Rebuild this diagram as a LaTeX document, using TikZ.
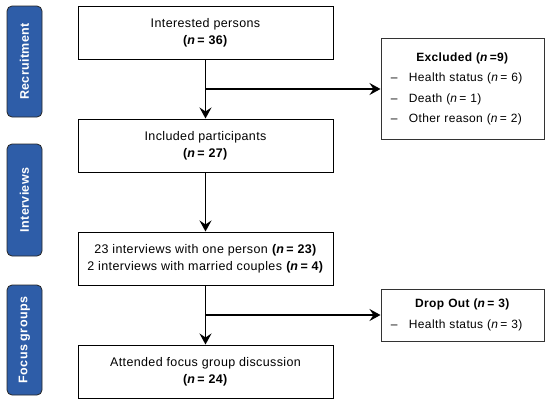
\documentclass[tikz,border=0pt]{standalone}
\usepackage{fontspec}
\setmainfont{Liberation Sans}[LetterSpace=3]
\usetikzlibrary{arrows.meta, positioning, calc}
\definecolor{stageblue}{HTML}{2E5DA8}
\newcommand{\nn}[1]{(\textit{n}\,= #1)}
\newcommand{\litem}[1]{\makebox[20pt][l]{\,--}#1}

\begin{document}
\begin{tikzpicture}[x=1pt, y=-1pt, node distance=59pt, >={Stealth[length=11pt, width=12pt, inset=4pt]}, font=\fontsize{12.5}{17}\selectfont]
\tikzset{
  mainbox/.style={draw, line width=1pt, align=center, minimum width=255pt, minimum height=53pt, inner sep=2pt},
  sidebox/.style={draw=black!80, line width=0.9pt, align=left, text width=147pt, inner sep=8pt, font=\fontsize{12}{20.5}\selectfont},
  stage/.style={draw=black!85, fill=stageblue, rounded corners=5pt, line width=0.8pt, rotate=90, minimum height=35pt, text=white, font=\bfseries\fontsize{12.5}{14}\selectfont},
  flow/.style={->, line width=1.6pt}
}
\useasboundingbox (0,0) rectangle (549,400);

% stages
\node[stage, minimum width=111pt] (recruit) at (24.5,61.5) {Recruitment};
\node[stage, minimum width=112pt] (interv) at (24.5,200) {Interviews};
\node[stage, minimum width=110pt] (groups) at (24.5,340) {Focus groups};

% main flow
\node[mainbox] (persons) at (205.5,32.5) {Interested persons\\\textbf{\nn{36}}};
\node[mainbox, below=of persons] (included) {Included participants\\\textbf{\nn{27}}};
\node[mainbox, below=of included] (interviews) {23 interviews with one person \textbf{\nn{23}}\\2 interviews with married couples \textbf{\nn{4}}};
\node[mainbox, below=of interviews] (focus) {Attended focus group discussion\\\textbf{\nn{24}}};

% side boxes
\coordinate (cut1) at ($(persons.south)!0.5!(included.north)$);
\coordinate (cut1e) at (cut1 -| persons.east);
\node[sidebox, minimum height=101pt, right=47pt of cut1e] (excluded) {\makebox[\linewidth][c]{\textbf{Excluded (\textit{n}\,=9)}}\\\litem{Health status \nn{6}}\\\litem{Death \nn{1}}\\\litem{Other reason \nn{2}}};
\coordinate (cut2) at ($(interviews.south)!0.5!(focus.north)$);
\coordinate (cut2e) at (cut2 -| interviews.east);
\node[sidebox, minimum height=52pt, right=47pt of cut2e] (dropout) {\makebox[\linewidth][c]{\textbf{Drop Out \nn{3}}}\\\litem{Health status \nn{3}}};

\draw[flow] (persons) -- (included);
\draw[flow] (included) -- (interviews);
\draw[flow] (interviews) -- (focus);
\draw[flow] (cut1) -- (excluded);
\draw[flow] (cut2) -- (dropout);
\end{tikzpicture}
\end{document}
